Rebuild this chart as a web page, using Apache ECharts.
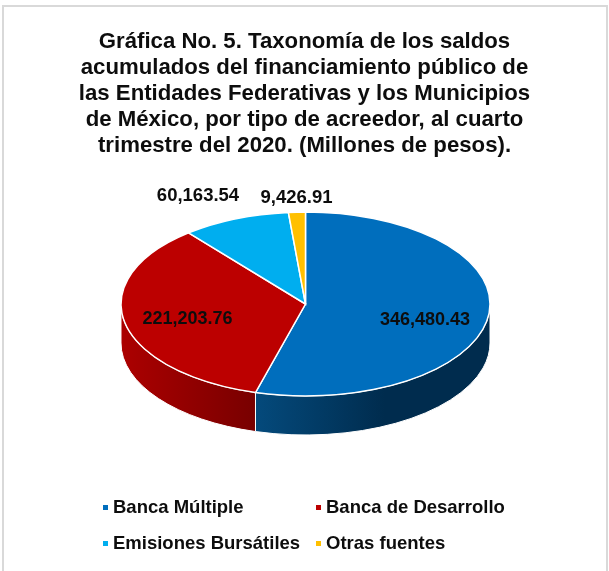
<!DOCTYPE html>
<html>
<head>
<meta charset="utf-8">
<title>Gráfica No. 5</title>
<script src="https://cdn.jsdelivr.net/npm/echarts@6/dist/echarts.min.js"></script>
<style>
  html, body { margin: 0; padding: 0; background: #fff; }
  #chart { width: 609px; height: 571px; }
</style>
</head>
<body>
<div id="chart"></div>
<script>
const categories = ['Banca Múltiple', 'Banca de Desarrollo', 'Emisiones Bursátiles', 'Otras fuentes'];
const values = [346480.43, 221203.76, 60163.54, 9426.91];
const valueLabels = ['346,480.43', '221,203.76', '60,163.54', '9,426.91'];
const titleText = 'Gráfica No. 5. Taxonomía de los saldos\nacumulados del financiamiento público de\nlas Entidades Federativas y los Municipios\nde México, por tipo de acreedor, al cuarto\ntrimestre del 2020. (Millones de pesos).';

const colors = ['#006EBD', '#BC0000', '#00AEEF', '#FFC000'];
const sideColors = [['#044A7C', '#002C4E'], ['#AC0000', '#780000'], ['#00AEEF', '#00AEEF'], ['#FFC000', '#FFC000']];

// ellipse of the pie top + extrusion depth
const cx = 305.5, cy = 304, rx = 184.5, ry = 92, depth = 39;
// label offset from pie centre
const labelOffsets = [[119.5, 16.5], [-118, 15], [-107.5, -108], [-9, -106]];
const labelFonts = [18, 18, 18.5, 18.5];

const total = values.reduce((a, b) => a + b, 0);

function pt(angle, dy) {
  return [cx + rx * Math.sin(angle), cy - ry * Math.cos(angle) + (dy || 0)];
}

function arcTo(p, large, sweep) {
  return 'A' + rx + ' ' + ry + ' 0 ' + (large ? 1 : 0) + ' ' + sweep + ' ' + p[0] + ' ' + p[1];
}

function renderSlice(idx, params, api) {
  const before = values.slice(0, idx).reduce((a, b) => a + b, 0);
  const a0 = before / total * Math.PI * 2;
  const a1 = (before + api.value(0)) / total * Math.PI * 2;
  const children = [];

  // only the front half of the wall is seen
  const s0 = Math.max(a0, Math.PI / 2);
  const s1 = Math.min(a1, Math.PI * 1.5);
  if (s1 > s0) {
    const p0 = pt(s0), p1 = pt(s1), q0 = pt(s0, depth), q1 = pt(s1, depth);
    children.push({
      type: 'path',
      shape: {
        pathData: 'M' + p0[0] + ' ' + p0[1] + arcTo(p1, false, 1) +
          'L' + q1[0] + ' ' + q1[1] + arcTo(q0, false, 0) + 'Z'
      },
      style: {
        fill: new echarts.graphic.LinearGradient(0, 0, idx === 0 ? 0.55 : 1, 0, [
          { offset: 0, color: sideColors[idx][0] },
          { offset: 1, color: sideColors[idx][1] }
        ]),
        stroke: '#fff',
        lineWidth: 1
      }
    });
  }

  const t0 = pt(a0), t1 = pt(a1);
  children.push({
    type: 'path',
    z2: 5,
    shape: {
      pathData: 'M' + cx + ' ' + cy + 'L' + t0[0] + ' ' + t0[1] +
        arcTo(t1, a1 - a0 > Math.PI, 1) + 'Z'
    },
    style: { fill: colors[idx], stroke: '#fff', lineWidth: 1.5 }
  });

  children.push({
    type: 'text',
    z2: 10,
    style: {
      x: cx + labelOffsets[idx][0],
      y: cy + labelOffsets[idx][1],
      text: valueLabels[idx],
      align: 'center',
      verticalAlign: 'middle',
      fill: '#0d0d0d',
      font: 'bold ' + labelFonts[idx] + 'px "Liberation Sans"'
    }
  });

  return { type: 'group', children: children };
}

const chart = echarts.init(document.getElementById('chart'));

const legendBase = {
  orient: 'vertical',
  icon: 'rect',
  itemWidth: 5,
  itemHeight: 5,
  itemGap: 17,
  selectedMode: false,
  textStyle: { fontFamily: 'Liberation Sans', fontSize: 18.5, fontWeight: 'bold', color: '#0d0d0d' }
};

chart.setOption({
  animation: false,
  backgroundColor: '#fff',
  title: {
    text: titleText,
    left: 'center',
    top: 23.5,
    textStyle: { fontFamily: 'Liberation Sans', fontSize: 22.2, fontWeight: 'bold', color: '#0d0d0d', lineHeight: 26 }
  },
  legend: [
    Object.assign({}, legendBase, { left: 98, top: 493, data: [categories[0], categories[2]] }),
    Object.assign({}, legendBase, { left: 311, top: 493, data: [categories[1], categories[3]] })
  ],
  graphic: [{
    type: 'rect',
    silent: true,
    shape: { x: 3, y: 6, width: 604, height: 620 },
    style: { fill: 'none', stroke: '#d9d9d9', lineWidth: 2 }
  }],
  series: categories.map(function (name, i) {
    return {
      type: 'custom',
      name: name,
      coordinateSystem: 'none',
      itemStyle: { color: colors[i] },
      data: [[values[i]]],
      renderItem: function (params, api) { return renderSlice(i, params, api); }
    };
  })
});
</script>
</body>
</html>
